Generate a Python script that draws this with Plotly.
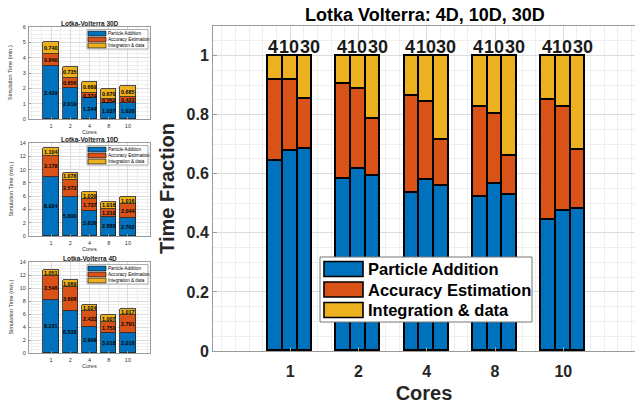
import plotly.graph_objects as go

# ---------------- data ----------------
cores = ["1", "2", "4", "8", "10"]
dims = ["4", "10", "30"]
components = ["Particle Addition", "Accuracy Estimation", "Integration & data"]

pa_4d = [8.231, 6.538, 3.999, 3.018, 3.018]
ae_4d = [3.546, 3.606, 2.433, 1.751, 2.791]
id_4d = [1.051, 1.069, 1.024, 1.007, 1.017]

pa_10d = [8.924, 5.890, 3.836, 2.888, 2.762]
ae_10d = [3.178, 2.572, 1.737, 1.210, 2.044]
id_10d = [1.104, 1.078, 1.039, 1.016, 1.016]

pa_30d = [3.429, 2.019, 1.344, 1.037, 1.028]
ae_30d = [0.840, 0.656, 0.374, 0.254, 0.422]
id_30d = [0.740, 0.735, 0.689, 0.670, 0.685]

colors = ["#0072BD", "#D95319", "#EDB120"]
W, H = 635, 407
FONT = "Liberation Sans, Arial, sans-serif"


def px(x):
    return x / W


def py(y):
    return 1 - y / H


fig = go.Figure()
annotations = []
shapes = []

# ---------------- main chart (fractions) ----------------
series = {"4": (pa_4d, ae_4d, id_4d), "10": (pa_10d, ae_10d, id_10d), "30": (pa_30d, ae_30d, id_30d)}
bw = 0.215
label_shift = {"4": -2, "10": -1, "30": 5}
for j, d in enumerate(dims):
    parts = series[d]
    totals = [sum(p[i] for p in parts) for i in range(len(cores))]
    xs = [i + 1 + (j - 1) * bw for i in range(len(cores))]
    for k, comp in enumerate(components):
        frac = [parts[k][i] / totals[i] for i in range(len(cores))]
        fig.add_trace(go.Bar(x=xs, y=frac, width=bw, marker=dict(color=colors[k], line=dict(color="black", width=1.6)),
                             name=comp, showlegend=False, xaxis="x", yaxis="y"))
    for x in xs:
        annotations.append(dict(x=x, y=1.0, xref="x", yref="y", text="<b>%s</b>" % d, showarrow=False,
                                xanchor="center", yanchor="bottom", yshift=-3, xshift=label_shift[d],
                                font=dict(size=18, color="#1a1a1a", family=FONT)))

# ---------------- small panels (absolute times) ----------------
panels = [("30D", (pa_30d, ae_30d, id_30d), "2", (27, 119), 6, 1),
          ("10D", (pa_10d, ae_10d, id_10d), "3", (143, 236), 14, 2),
          ("4D", (pa_4d, ae_4d, id_4d), "4", (262, 353), 14, 2)]
xs_small = [i + 1 for i in range(len(cores))]
for title, parts, ax, (ytop, ybot), ymax, dt in panels:
    base = [0.0] * len(cores)
    for k, comp in enumerate(components):
        fig.add_trace(go.Bar(x=xs_small, y=parts[k], width=0.8,
                             marker=dict(color=colors[k], line=dict(color="#222", width=0.8)),
                             name=comp, showlegend=False, xaxis="x" + ax, yaxis="y" + ax))
        for i, v in enumerate(parts[k]):
            annotations.append(dict(x=xs_small[i], y=base[i] + v / 2, xref="x" + ax, yref="y" + ax,
                                    text="<b>%.3f</b>" % v, showarrow=False, xanchor="center", yanchor="middle",
                                    borderpad=0, font=dict(size=5.4, color="black", family=FONT)))
            base[i] += v
    annotations.append(dict(x=px(89.5), y=py(ytop - 3.5), xref="paper", yref="paper",
                            text="<b>Lotka-Volterra %s</b>" % title, showarrow=False, xanchor="center",
                            yanchor="middle", borderpad=0, font=dict(size=6.5, color="#222", family=FONT)))
    annotations.append(dict(x=px(89.5), y=py(ybot + 12.5), xref="paper", yref="paper", text="Cores",
                            showarrow=False, xanchor="center", yanchor="middle", borderpad=0,
                            font=dict(size=5.5, color="#333", family=FONT)))
    annotations.append(dict(x=px(10), y=py((ytop + ybot) / 2), xref="paper", yref="paper",
                            text="Simulation Time (min.)", textangle=-90, showarrow=False,
                            xanchor="center", yanchor="middle", borderpad=0,
                            font=dict(size=5.5, color="#333", family=FONT)))
    # legend box
    lx0, lx1, ly0 = 87, 148, ytop + 2.5
    rowh = 6.0
    shapes.append(dict(type="rect", xref="paper", yref="paper", x0=px(lx0), x1=px(lx1), y0=py(ly0),
                       y1=py(ly0 + rowh * 3 + 1.5), fillcolor="white", line=dict(color="#777", width=0.6),
                       layer="above"))
    for k, comp in enumerate(components):
        y0 = ly0 + 1 + k * rowh
        shapes.append(dict(type="rect", xref="paper", yref="paper", x0=px(lx0 + 1), x1=px(lx0 + 19),
                           y0=py(y0 + 0.6), y1=py(y0 + rowh - 0.6), fillcolor=colors[k],
                           line=dict(color="black", width=0.6), layer="above"))
        annotations.append(dict(x=px(lx0 + 20), y=py(y0 + rowh / 2), xref="paper", yref="paper", text=comp,
                                showarrow=False, xanchor="left", yanchor="middle", borderpad=0,
                                font=dict(size=4.6, color="black", family=FONT)))

# ---------------- main legend ----------------
mx0, mx1, my0, my1 = 320, 532, 257, 322
shapes.append(dict(type="rect", xref="paper", yref="paper", x0=px(mx0), x1=px(mx1), y0=py(my0), y1=py(my1),
                   fillcolor="white", line=dict(color="#777", width=1), layer="above"))
for k, comp in enumerate(components):
    yc = 269 + k * 20.5
    shapes.append(dict(type="rect", xref="paper", yref="paper", x0=px(324), x1=px(363), y0=py(yc - 7.5),
                       y1=py(yc + 7.5), fillcolor=colors[k], line=dict(color="black", width=1.6), layer="above"))
    annotations.append(dict(x=px(366), y=py(yc), xref="paper", yref="paper", text="<b>%s</b>" % comp,
                            showarrow=False, xanchor="left", yanchor="middle",
                            font=dict(size=16.5, color="black", family=FONT)))

# main title
annotations.append(dict(x=px(425), y=py(15), xref="paper", yref="paper",
                        text="<b>Lotka Volterra: 4D, 10D, 30D</b>", showarrow=False,
                        xanchor="center", yanchor="middle",
                        font=dict(size=18, color="black", family=FONT)))

grid_major = "#dcdcdc"
grid_minor = "#eeeeee"
axline = "#9a9a9a"

layout = dict(
    width=W, height=H, margin=dict(l=0, r=0, t=0, b=0, autoexpand=False), barmode="stack", bargap=0,
    plot_bgcolor="white", paper_bgcolor="white", showlegend=False,
    font=dict(family=FONT, color="#262626"),
    xaxis=dict(domain=[px(213), 1.0], range=[-0.13, 6.05], tickvals=xs_small,
               ticktext=["<b>%s</b>" % c for c in cores],
               showgrid=True, gridcolor=grid_major, minor=dict(dtick=0.2, showgrid=True, gridcolor=grid_minor,
                                                              tick0=0),
               showline=True, linecolor=axline, mirror=True, ticks="inside", ticklen=4, tickcolor=axline,
               tickfont=dict(size=16, color="#262626", family=FONT), ticklabelstandoff=6,
               title=dict(text="<b>Cores</b>", font=dict(size=20, color="#262626", family=FONT), standoff=6),
               zeroline=False, anchor="y", automargin=False),
    yaxis=dict(domain=[py(351), py(26)], range=[0, 1.1], tickvals=[0, 0.2, 0.4, 0.6, 0.8, 1.0],
               ticktext=["<b>0</b>", "<b>0.2</b>", "<b>0.4</b>", "<b>0.6</b>", "<b>0.8</b>", "<b>1</b>"],
               showgrid=True, gridcolor=grid_major, minor=dict(dtick=0.05, showgrid=True, gridcolor=grid_minor),
               showline=True, linecolor=axline, mirror=True, ticks="inside", ticklen=4, tickcolor=axline,
               tickfont=dict(size=16, color="#262626", family=FONT),
               title=dict(text="<b>Time Fraction</b>", font=dict(size=20, color="#262626", family=FONT), standoff=6),
               zeroline=False, anchor="x", automargin=False),
    annotations=annotations, shapes=shapes,
)
for title, parts, ax, (ytop, ybot), ymax, dt in panels:
    layout["xaxis" + ax] = dict(domain=[px(29), px(150)], range=[-0.15, 6.15], tickvals=xs_small, ticktext=cores,
                                showgrid=True, gridcolor=grid_major,
                                minor=dict(dtick=0.5, tick0=0, showgrid=True, gridcolor=grid_minor),
                                showline=True, linecolor=axline, mirror=True, ticks="inside", ticklen=2,
                                tickcolor=axline, tickfont=dict(size=5.5, color="#333", family=FONT),
                                ticklabelstandoff=1, zeroline=False, anchor="y" + ax, automargin=False)
    layout["yaxis" + ax] = dict(domain=[py(ybot), py(ytop)], range=[0, ymax], dtick=dt, tick0=0,
                                showgrid=True, gridcolor=grid_major,
                                minor=dict(dtick=dt / 4, showgrid=True, gridcolor=grid_minor),
                                showline=True, linecolor=axline, mirror=True, ticks="inside", ticklen=2,
                                tickcolor=axline, tickfont=dict(size=5.5, color="#333", family=FONT),
                                ticklabelstandoff=1, zeroline=False, anchor="x" + ax, automargin=False)

fig.update_layout(**layout)
fig.write_html("out.html", config={"displayModeBar": False},
               post_script="document.body.style.margin='0';")
